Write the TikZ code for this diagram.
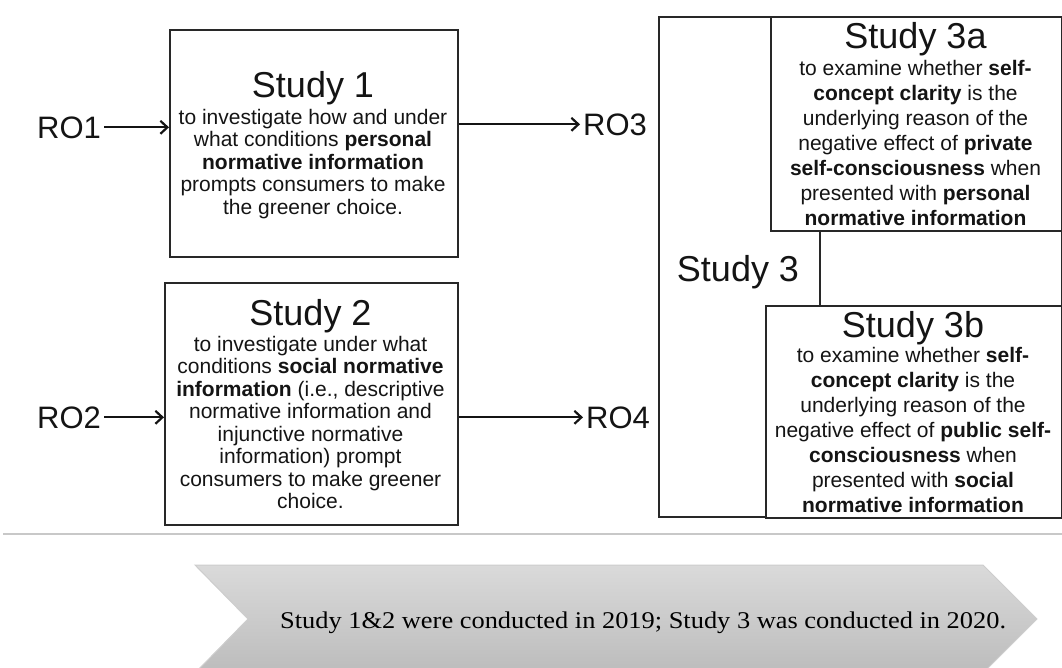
\documentclass[tikz,border=0pt]{standalone}
\usepackage{fontspec}
\setmainfont{Liberation Sans}
\newfontfamily\timesfont[FakeStretch=1.1]{Liberation Serif}
\usetikzlibrary{arrows.meta,calc}

\definecolor{boxline}{RGB}{40,40,40}
\definecolor{ink}{RGB}{20,20,20}
\definecolor{sepgray}{RGB}{200,200,200}
\definecolor{chevtop}{RGB}{218,218,218}
\definecolor{chevbot}{RGB}{188,188,188}
\definecolor{chevedge}{RGB}{205,205,205}

\begin{document}
\begin{tikzpicture}[x=1pt,y=-1pt,
  box/.style={draw=boxline,line width=1.6pt,inner sep=0pt,anchor=north west},
  title/.style={anchor=base,inner sep=0pt,text=ink,font=\fontsize{36}{40}\selectfont},
  bodyA/.style={anchor=north,inner sep=0pt,align=center,text=ink,font=\fontsize{21}{22.5}\selectfont},
  bodyB/.style={anchor=north,inner sep=0pt,align=center,text=ink,font=\fontsize{21}{25}\selectfont},
  ro/.style={anchor=base west,inner ysep=0pt,inner xsep=3pt,text=ink,font=\fontsize{31}{34}\selectfont},
  link/.style={line width=2.2pt,draw=ink,-{Straight Barb[length=7pt,width=13pt,line width=2.2pt]}}]

\useasboundingbox (0,0) rectangle (1062,667);

% study boxes
\node[box,minimum width=288pt,minimum height=227pt] (s1) at (169,29) {};
\node[box,minimum width=293pt,minimum height=242pt] (s2) at (164,282) {};
\node[box,minimum width=403pt,minimum height=500pt] (s3) at (658,16) {};
\node[box,fill=white,minimum width=291pt,minimum height=214pt] (s3a) at (770,16) {};
\node[box,fill=white,minimum width=296pt,minimum height=212pt] (s3b) at (765,305) {};
\draw[boxline,line width=1.6pt] ($(s3a.south west)+(50,0)$) -- ($(s3b.north west)+(55,0)$);

% titles
\node[title] (t1) at (313,97) {Study 1};
\node[title] (t2) at (310.5,325) {Study 2};
\node[title] (t3a) at (915.5,48) {Study 3a};
\node[title] (t3b) at (913,337) {Study 3b};
\node[title] (t3) at (738,281) {Study 3};

% descriptions
\node[bodyA] (b1) at (313,108.25) {\strut to investigate how and under\\
  what conditions \textbf{personal}\\
  \textbf{normative information}\\
  prompts consumers to make\\
  the greener choice.};
\node[bodyA] (b2) at (310.5,335.25) {\strut to investigate under what\\
  conditions \textbf{social normative}\\
  \textbf{information} (i.e., descriptive\\
  normative information and\\
  injunctive normative\\
  information) prompt\\
  consumers to make greener\\
  choice.};
\node[bodyB] (b3a) at (915.5,57.5) {\strut to examine whether \textbf{self-}\\
  \textbf{concept clarity} is the\\
  underlying reason of the\\
  negative effect of \textbf{private}\\
  \textbf{self-consciousness} when\\
  presented with \textbf{personal}\\
  \textbf{normative information}};
\node[bodyB] (b3b) at (913,344.5) {\strut to examine whether \textbf{self-}\\
  \textbf{concept clarity} is the\\
  underlying reason of the\\
  negative effect of \textbf{public self-}\\
  \textbf{consciousness} when\\
  presented with \textbf{social}\\
  \textbf{normative information}};

% research objectives
\node[ro] (ro1) at (34,138) {RO1};
\node[ro] (ro2) at (34,428) {RO2};
\node[ro] (ro3) at (580,135) {RO3};
\node[ro] (ro4) at (583,428) {RO4};

\draw[link] (ro1.east) -- (ro1.east -| s1.west);
\draw[link] (ro2.east) -- (ro2.east -| s2.west);
\draw[link] (ro3.west -| s1.east) -- (ro3.west);
\draw[link] (ro4.west -| s2.east) -- (ro4.west);

% separator
\draw[sepgray,line width=1.5pt] (3,534) -- (1062,534);

% timeline chevron
\begin{scope}
\clip (0,0) rectangle (1062,667);
\path[top color=chevtop,bottom color=chevbot,draw=chevedge,line width=1pt]
  (195,565) -- (983,565) -- (1037,619) -- (983,673) -- (195,673) -- (248,619) -- cycle;
\end{scope}
\node[anchor=base west,inner sep=0pt,text=black,font=\timesfont\fontsize{24}{28}\selectfont] (note) at (280,628)
  {Study 1\&2 were conducted in 2019; Study 3 was conducted in 2020.};
\end{tikzpicture}
\end{document}
